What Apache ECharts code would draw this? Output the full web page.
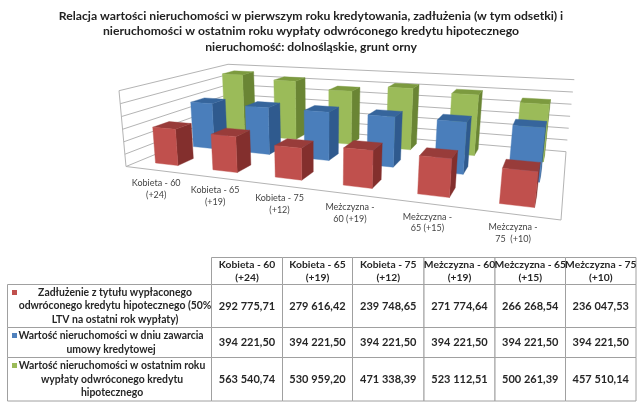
<!DOCTYPE html>
<html><head><meta charset="utf-8">
<style>html,body{margin:0;padding:0;background:#fff}#c{width:640px;height:406px;filter:blur(0.35px)}</style>
<script src="https://cdn.jsdelivr.net/npm/echarts@6/dist/echarts.min.js"></script>
</head><body><div id="c"></div>
<script>
const chartTitle = 'Relacja wartości nieruchomości w pierwszym roku kredytowania, zadłużenia (w tym odsetki) i\nnieruchomości w ostatnim roku wypłaty odwróconego kredytu hipotecznego\nnieruchomość: dolnośląskie, grunt orny';
const axisCategories = ['Kobieta - 60\n(+24)','Kobieta - 65\n(+19)','Kobieta - 75\n(+12)','Meżczyzna -\n60 (+19)','Meżczyzna -\n65 (+15)','Meżczyzna -\n75  (+10)'];
const tableHeaders = ['Kobieta - 60\n(+24)','Kobieta - 65\n(+19)','Kobieta - 75\n(+12)','Meżczyzna - 60\n(+19)','Meżczyzna - 65\n(+15)','Meżczyzna - 75\n(+10)'];
const tickValues = [0,100000,200000,300000,400000,500000,600000];
const tickLabels = ['-  ','100 000,00','200 000,00','300 000,00','400 000,00','500 000,00','600 000,00'];
const debtName = 'Zadłużenie z tytułu wypłaconego\nodwróconego kredytu hipotecznego (50%\nLTV na ostatni rok wypłaty)';
const startName = 'Wartość nieruchomości w dniu zawarcia\numowy kredytowej';
const endName = 'Wartość nieruchomości w ostatnim roku\nwypłaty odwróconego kredytu\nhipotecznego';
const debtValues = [292775.71,279616.42,239748.65,271774.64,266268.54,236047.53];
const startValues = [394221.50,394221.50,394221.50,394221.50,394221.50,394221.50];
const endValues = [563540.74,530959.20,471338.39,523112.51,500261.39,457510.14];

// projective camera of the 3D box, calibrated on the reference
function homography(q){
  const [x0,y0]=q[0],[x1,y1]=q[1],[x2,y2]=q[2],[x3,y3]=q[3];
  const dx1=x1-x2,dx2=x3-x2,sx=x0-x1+x2-x3,dy1=y1-y2,dy2=y3-y2,sy=y0-y1+y2-y3;
  const den=dx1*dy2-dx2*dy1,g=(sx*dy2-dx2*sy)/den,h=(dx1*sy-sx*dy1)/den;
  return {a:x1-x0+g*x1,b:x3-x0+h*x3,c:x0,d:y1-y0+g*y1,e:y3-y0+h*y3,f:y0,g,h};
}
const H = homography([[126,166.5],[561,220],[566,151.7],[230.5,123.3]]);
const vp = [321,2278], vs = -0.03465;
function project(u,w,t){ // u: 0..6 categories, w: 0..3 rows, t: 0..1 height
  const U=u/6,V=w/3,W=H.g*U+H.h*V+1+t*vs;
  return [(H.a*U+H.b*V+H.c+t*vs*vp[0])/W,(H.d*U+H.e*V+H.f+t*vs*vp[1])/W];
}
function planeCoords(api,params,cat,val){
  const g=params.coordSys,p=api.coord([cat,val]);
  return {u:(p[0]-g.x)/g.width*6,t:(g.y+g.height-p[1])/g.height,band:api.size([1,0])[0]/g.width*6};
}
const FONT='Lato, sans-serif';
function shade(face,top,side,row){
  return function(params,api){
    const pc=planeCoords(api,params,api.value(0),api.value(1));
    const hw=pc.band*0.2,u0=pc.u-hw,u1=pc.u+hw,w0=row+0.3,w1=row+0.7,t=pc.t;
    const P=project;
    const poly=(pts,fill)=>({type:'polygon',shape:{points:pts},style:{fill:fill,stroke:fill,lineWidth:0.4}});
    return {type:'group',children:[
      poly([P(u1,w0,0),P(u1,w1,0),P(u1,w1,t),P(u1,w0,t)],side),
      poly([P(u0,w0,t),P(u1,w0,t),P(u1,w1,t),P(u0,w1,t)],top),
      poly([P(u0,w0,0),P(u1,w0,0),P(u1,w0,t),P(u0,w0,t)],face)
    ]};
  };
}
const gridColor='#b4b4b4';
function renderWalls(params,api){
  const pc=planeCoords(api,params,0,api.value(0));
  const t=pc.t,line=(a,b)=>({type:'line',shape:{x1:a[0],y1:a[1],x2:b[0],y2:b[1]},style:{stroke:gridColor,lineWidth:1}});
  const ch=[line(project(0,0,t),project(0,3,t)),line(project(0,3,t),project(6,3,t))];
  if(t===0){ch.push(line(project(0,0,0),project(6,0,0)),line(project(6,0,0),project(6,3,0)),line(project(0,0,0),project(0,0,1)));}
  ch.push({type:'text',x:project(0,0,t)[0]-17,y:project(0,0,t)[1],style:{text:tickLabels[api.dataIndex],font:'9.5px '+FONT,fill:'#444',align:'right',verticalAlign:'middle'}});
  return {type:'group',children:ch};
}
function renderCatLabels(params,api){
  const i=api.value(0),pc=planeCoords(api,params,i,0),p=project(pc.u,0,0);
  return {type:'text',x:p[0]+2.55-pc.u*0.7,y:p[1]+19,style:{text:axisCategories[i],font:'9px '+FONT,lineHeight:11.5,fill:'#444',align:'center',verticalAlign:'middle'}};
}
const xs=[7.5,211.5,282.5,352.5,424,495,565.5,636],ys=[257.5,284.5,327.5,357.5,401];
const rowNames=[debtName,startName,endName],rowVals=[debtValues,startValues,endValues],rowColors=['#c0504d','#4f81bd','#9bbb59'];
const rowTextX=[115,111,112];
const fmt=v=>{const s=v.toFixed(2).split('.');return s[0].replace(/\B(?=(\d{3})+$)/g,' ')+','+s[1];};
const tbl=[];
const cell=(x,y,w,h)=>tbl.push({type:'rect',shape:{x,y,width:w,height:h},style:{fill:'#fff',stroke:'#a0a0a0',lineWidth:1},z:1});
const txt=(x,y,t,fs)=>tbl.push({type:'text',x,y,style:{text:t,font:'bold '+fs+'px '+FONT,lineHeight:13.5,fill:'#262626',align:'center',verticalAlign:'middle'},z:2});
for(let c=0;c<6;c++){cell(xs[c+1],ys[0],xs[c+2]-xs[c+1],ys[1]-ys[0]);txt((xs[c+1]+xs[c+2])/2,(ys[0]+ys[1])/2,tableHeaders[c],10.3);}
for(let r=0;r<3;r++){
  cell(xs[0],ys[r+1],xs[1]-xs[0],ys[r+2]-ys[r+1]);
  txt(rowTextX[r],(ys[r+1]+ys[r+2])/2,rowNames[r],10.4);
  tbl.push({type:'rect',shape:{x:12,y:ys[r+1]+5.5,width:5,height:5},style:{fill:rowColors[r]},z:2});
  for(let c=0;c<6;c++){cell(xs[c+1],ys[r+1],xs[c+2]-xs[c+1],ys[r+2]-ys[r+1]);txt((xs[c+1]+xs[c+2])/2,(ys[r+1]+ys[r+2])/2,fmt(rowVals[r][c]),11);}
}
const chart=echarts.init(document.getElementById('c'),null,{renderer:'canvas'});
const seriesData=a=>a.map((v,i)=>[i,v]);
chart.setOption({
  animation:false,backgroundColor:'#fff',
  title:{text:chartTitle,left:306,top:3,textAlign:'center',textStyle:{fontFamily:'Lato, sans-serif',fontWeight:'bold',fontSize:12.2,lineHeight:15.5,color:'#222'}},
  grid:{left:126,top:90,width:435,height:76},
  xAxis:{type:'category',data:axisCategories.map(s=>s.replace('\n',' ')),show:false},
  yAxis:{type:'value',min:0,max:600000,interval:100000,show:false},
  graphic:tbl,
  series:[
    {type:'custom',name:'axes',coordinateSystem:'cartesian2d',data:tickValues.map(v=>[v]),encode:{y:0},renderItem:renderWalls,silent:true,z:1},
    {type:'custom',name:endName,coordinateSystem:'cartesian2d',data:seriesData(endValues),encode:{x:0,y:1},renderItem:shade('#9bbb59','#7c9a3f','#6a8534',2),z:2},
    {type:'custom',name:startName,coordinateSystem:'cartesian2d',data:seriesData(startValues),encode:{x:0,y:1},renderItem:shade('#4a7ebb','#36659c','#2f5a8e',1),z:3},
    {type:'custom',name:debtName,coordinateSystem:'cartesian2d',data:seriesData(debtValues),encode:{x:0,y:1},renderItem:shade('#c0504d','#983c3a','#832f2d',0),z:4},
    {type:'custom',name:'labels',coordinateSystem:'cartesian2d',data:axisCategories.map((s,i)=>[i]),encode:{x:0},renderItem:renderCatLabels,silent:true,z:5}
  ]
});
</script></body></html>
